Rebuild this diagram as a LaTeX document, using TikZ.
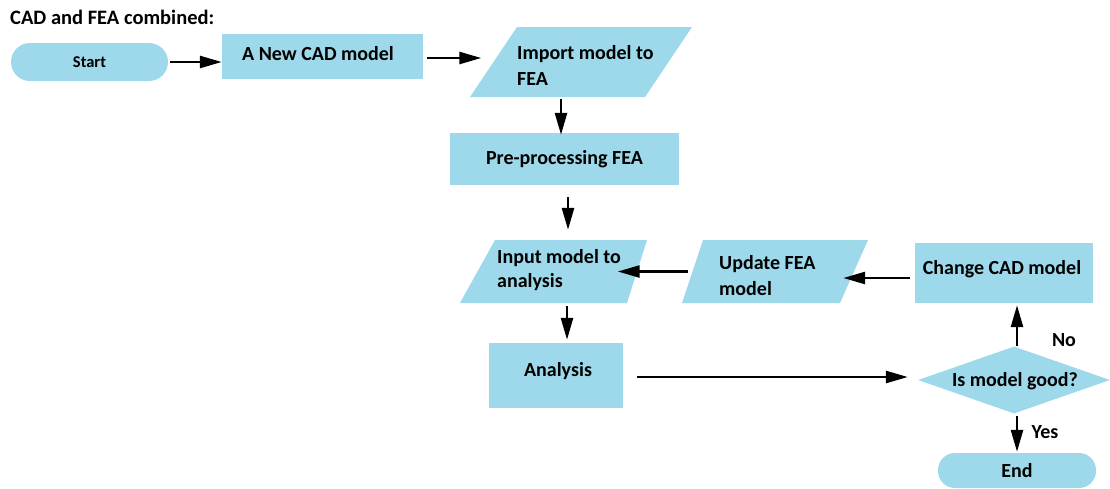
\documentclass[tikz,border=0pt]{standalone}
\usepackage{fontspec}
\setmainfont{Carlito}
\usetikzlibrary{arrows.meta,shapes.geometric}
\definecolor{boxblue}{RGB}{157,217,234}
\begin{document}
\begin{tikzpicture}[x=1pt,y=-1pt,
  every node/.style={font=\bfseries\fontsize{20}{24}\selectfont,text=black,inner sep=0pt},
  proc/.style={rectangle,fill=boxblue},
  term/.style={rectangle,fill=boxblue},
  paraarea/.style={rectangle},
  parafill/.style={fill=boxblue},
  arr/.style={line width=2.6pt,-{Triangle[length=22pt,width=12pt]}},
  lbl/.style={font=\bfseries\fontsize{20}{24}\selectfont}]
\useasboundingbox (0,0) rectangle (1110,488);
\node[anchor=west,font=\bfseries\fontsize{20.5}{24}\selectfont] (title) at (10,17) {CAD and FEA combined:};
\node[term,minimum width=157pt,minimum height=38pt,rounded corners=19pt,font=\bfseries\fontsize{16.5}{20}\selectfont] (start) at (89.5,62) {Start};
\node[proc,minimum width=201pt,minimum height=45pt] (cad) at (322.5,56.5) {};
\node (cadT) at (318,54) {A New CAD model};
% parallelograms
\fill[parafill] (517,27) -- (692,27) -- (645,97) -- (470,97) -- cycle;
\node[paraarea,minimum width=175pt,minimum height=70pt] (imp) at (581,62) {};
\node[anchor=west,align=left,font=\bfseries\fontsize{20}{26}\selectfont] (impT) at (517,65) {Import model to\\FEA};
\node[proc,minimum width=229pt,minimum height=52pt] (pre) at (564.5,159) {Pre-processing FEA};
\fill[parafill] (495,240) -- (647,240) -- (627,303) -- (460,303) -- cycle;
\node[paraarea,minimum width=152pt,minimum height=63pt] (inp) at (553.5,271.5) {};
\node[anchor=west,align=left,font=\bfseries\fontsize{20}{24}\selectfont] (inpT) at (497,270) {Input model to\\analysis};
\fill[parafill] (703,240) -- (868,240) -- (840,303) -- (682,303) -- cycle;
\node[paraarea,minimum width=162pt,minimum height=63pt] (upd) at (773,271.5) {};
\node[anchor=west,align=left,font=\bfseries\fontsize{20}{26}\selectfont] (updT) at (719,276) {Update FEA\\model};
\node[proc,minimum width=178pt,minimum height=60pt] (chg) at (1004,273) {};
\node (chgT) at (1002,269) {Change CAD model};
\node[proc,minimum width=134pt,minimum height=65pt] (ana) at (556,375.5) {};
\node (anaT) at (558,371) {Analysis};
\node[diamond,fill=boxblue,minimum width=192pt,minimum height=67pt,aspect=2.9] (dec) at (1014,380) {};
\node (decT) at (1015,381) {Is model good?};
\node[term,minimum width=158pt,minimum height=35pt,rounded corners=17pt] (end) at (1017,470.5) {End};
\node[lbl] (no) at (1064,340) {No};
\node[lbl] (yes) at (1045,432) {Yes};
\draw[arr] ([xshift=2pt]start.east) -- (cad.west |- start.east);
\draw[arr] ([xshift=4pt,yshift=-1.5pt]cad.east) -- ([xshift=-12pt,yshift=4pt]imp.west);
\draw[arr] ([xshift=-20pt,yshift=-2pt]imp.south) -- ([xshift=-3.5pt,yshift=-2pt]pre.north);
\draw[arr] ([xshift=3.5pt,yshift=-12pt]pre.south) -- ([xshift=14.5pt,yshift=10pt]inp.north);
\draw[arr] ([xshift=-4pt]upd.west) -- ([xshift=-12pt]inp.east);
\draw[arr] ([xshift=-5pt,yshift=-5pt]chg.west) -- ([xshift=-11pt,yshift=-6.5pt]upd.east);
\draw[arr] ([xshift=13.5pt,yshift=-3pt]inp.south) -- ([xshift=11pt,yshift=3pt]ana.north);
\draw[arr] ([xshift=14pt,yshift=-1.5pt]ana.east) -- ([xshift=-10pt,yshift=3pt]dec.west);
\draw[arr] ([xshift=3pt]dec.north) -- ([xshift=13pt,yshift=-2pt]chg.south);
\draw[arr] ([xshift=3pt,yshift=-2pt]dec.south) -- ([yshift=1pt]end.north);
\end{tikzpicture}
\end{document}
